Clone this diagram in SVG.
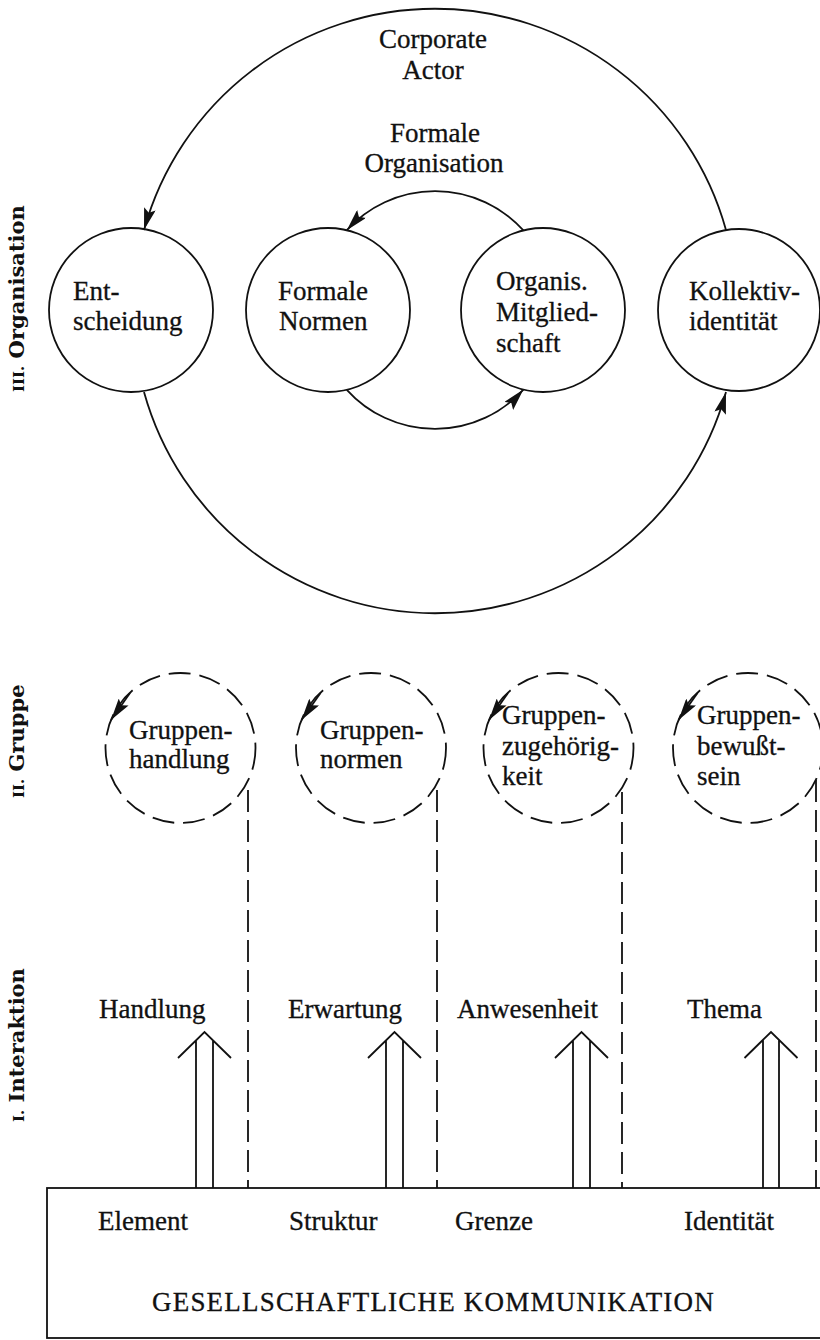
<svg xmlns="http://www.w3.org/2000/svg" width="820" height="1340" viewBox="0 0 820 1340">
<style>
  .ln { fill: none; stroke: #111; stroke-width: 1.8; }
  .node { fill: none; stroke: #111; stroke-width: 1.8; }
  .dnode { fill: none; stroke: #111; stroke-width: 1.8; stroke-dasharray: 22 9; }
  .dl { fill: none; stroke: #111; stroke-width: 1.8; stroke-dasharray: 22 8; }
  .t { font-family: "Liberation Serif", "Times New Roman", serif; font-size: 27px; fill: #111; stroke: #111; stroke-width: 0.3; }
  .c { text-anchor: middle; }
  .side { font-family: "DejaVu Serif", "Liberation Serif", serif; font-size: 21px; font-weight: bold; fill: #111; }
</style>
<defs>
  <marker id="ah" viewBox="0 0 22 12" refX="22" refY="6" markerWidth="22" markerHeight="12" markerUnits="userSpaceOnUse" orient="auto">
    <path d="M0,0 L22,6 L0,12 L4,6 z" fill="#111"/>
  </marker>
</defs>
<rect width="820" height="1340" fill="#fff"/>

<!-- side labels -->
<g id="label-organisation"><text class="side" transform="translate(24,392) rotate(-90)"><tspan font-size="15">III.</tspan> Organisation</text></g>
<g id="label-gruppe"><text class="side" transform="translate(24,798) rotate(-90)"><tspan font-size="15">II.</tspan> Gruppe</text></g>
<g id="label-interaktion"><text class="side" transform="translate(24,1122) rotate(-90)"><tspan font-size="15">I.</tspan> Interaktion</text></g>

<!-- connectors -->
<g id="connectors">
  <path class="ln" d="M 726 230 A 302 302 0 0 0 144 230" marker-end="url(#ah)"/>
  <path class="ln" d="M 144 392 A 302 302 0 0 0 726 392" marker-end="url(#ah)"/>
  <path class="ln" d="M 523.4 230.4 A 119 119 0 0 0 346.8 230.2" marker-end="url(#ah)"/>
  <path class="ln" d="M 346.8 389.8 A 119 119 0 0 0 523.4 389.6" marker-end="url(#ah)"/>
  <!-- dashed circle arrows -->
  <path class="ln" d="M 130 693 L 111 720" marker-end="url(#ah)"/>
  <path class="ln" d="M 320.5 693 L 301.5 720" marker-end="url(#ah)"/>
  <path class="ln" d="M 508 693 L 489 720" marker-end="url(#ah)"/>
  <path class="ln" d="M 697.5 693 L 678.5 720" marker-end="url(#ah)"/>
  <!-- dashed verticals -->
  <line class="dl" x1="248" y1="790" x2="248" y2="1188"/>
  <line class="dl" x1="437" y1="790" x2="437" y2="1188"/>
  <line class="dl" x1="622" y1="792" x2="622" y2="1188"/>
  <line class="dl" x1="816" y1="780" x2="816" y2="1188"/>
  <!-- hollow double arrows -->
  <path class="ln" d="M 196 1188 L 196 1040 M 213 1188 L 213 1040 M 178 1058 L 204.5 1032 L 231 1058"/>
  <path class="ln" d="M 386 1188 L 386 1040 M 403 1188 L 403 1040 M 368 1058 L 394.5 1032 L 421 1058"/>
  <path class="ln" d="M 573 1188 L 573 1040 M 590 1188 L 590 1040 M 555 1058 L 581.5 1032 L 608 1058"/>
  <path class="ln" d="M 763 1188 L 763 1040 M 779 1188 L 779 1040 M 744.5 1058 L 771 1032 L 797.5 1058"/>
</g>

<!-- top labels -->
<g id="corporate-actor">
  <text class="t c" x="433" y="48">Corporate</text>
  <text class="t c" x="433" y="79">Actor</text>
</g>
<g id="formale-organisation">
  <text class="t c" x="435" y="142">Formale</text>
  <text class="t c" x="434" y="172">Organisation</text>
</g>

<!-- Organisation nodes -->
<g id="entscheidung">
  <circle class="node" cx="131" cy="310" r="82"/>
  <text class="t" x="73" y="300">Ent-</text>
  <text class="t" x="73" y="330">scheidung</text>
</g>
<g id="formale-normen">
  <circle class="node" cx="328" cy="310" r="82"/>
  <text class="t" x="278" y="300">Formale</text>
  <text class="t" x="279" y="330">Normen</text>
</g>
<g id="organis-mitgliedschaft">
  <circle class="node" cx="543" cy="310" r="82"/>
  <text class="t" x="496" y="290">Organis.</text>
  <text class="t" x="496" y="321">Mitglied-</text>
  <text class="t" x="496" y="352">schaft</text>
</g>
<g id="kollektividentitaet">
  <circle class="node" cx="739" cy="310" r="81"/>
  <text class="t" x="689" y="300">Kollektiv-</text>
  <text class="t" x="689" y="330">identität</text>
</g>

<!-- Gruppe nodes -->
<g id="gruppenhandlung">
  <circle class="dnode" cx="180.5" cy="748" r="75"/>
  <text class="t" x="129" y="739">Gruppen-</text>
  <text class="t" x="129" y="768">handlung</text>
</g>
<g id="gruppennormen">
  <circle class="dnode" cx="371" cy="748" r="75"/>
  <text class="t" x="320" y="739">Gruppen-</text>
  <text class="t" x="320" y="768">normen</text>
</g>
<g id="gruppenzugehoerigkeit">
  <circle class="dnode" cx="558.5" cy="748" r="75"/>
  <text class="t" x="502" y="724">Gruppen-</text>
  <text class="t" x="502" y="755">zugehörig-</text>
  <text class="t" x="502" y="785">keit</text>
</g>
<g id="gruppenbewusstsein">
  <circle class="dnode" cx="748" cy="748" r="75"/>
  <text class="t" x="697" y="724">Gruppen-</text>
  <text class="t" x="697" y="755">bewußt-</text>
  <text class="t" x="697" y="785">sein</text>
</g>

<!-- Interaktion labels -->
<g id="handlung"><text class="t" x="99" y="1018">Handlung</text></g>
<g id="erwartung"><text class="t" x="288" y="1018">Erwartung</text></g>
<g id="anwesenheit"><text class="t" x="457" y="1018">Anwesenheit</text></g>
<g id="thema"><text class="t" x="687" y="1018">Thema</text></g>

<!-- base box -->
<g id="gesellschaftliche-kommunikation">
  <rect class="node" x="47" y="1188" width="800" height="150"/>
  <text class="t" x="98" y="1230">Element</text>
  <text class="t" x="289" y="1230">Struktur</text>
  <text class="t" x="455" y="1230">Grenze</text>
  <text class="t" x="684" y="1230">Identität</text>
  <text class="t" x="152" y="1311" letter-spacing="1.2">GESELLSCHAFTLICHE KOMMUNIKATION</text>
</g>
</svg>
